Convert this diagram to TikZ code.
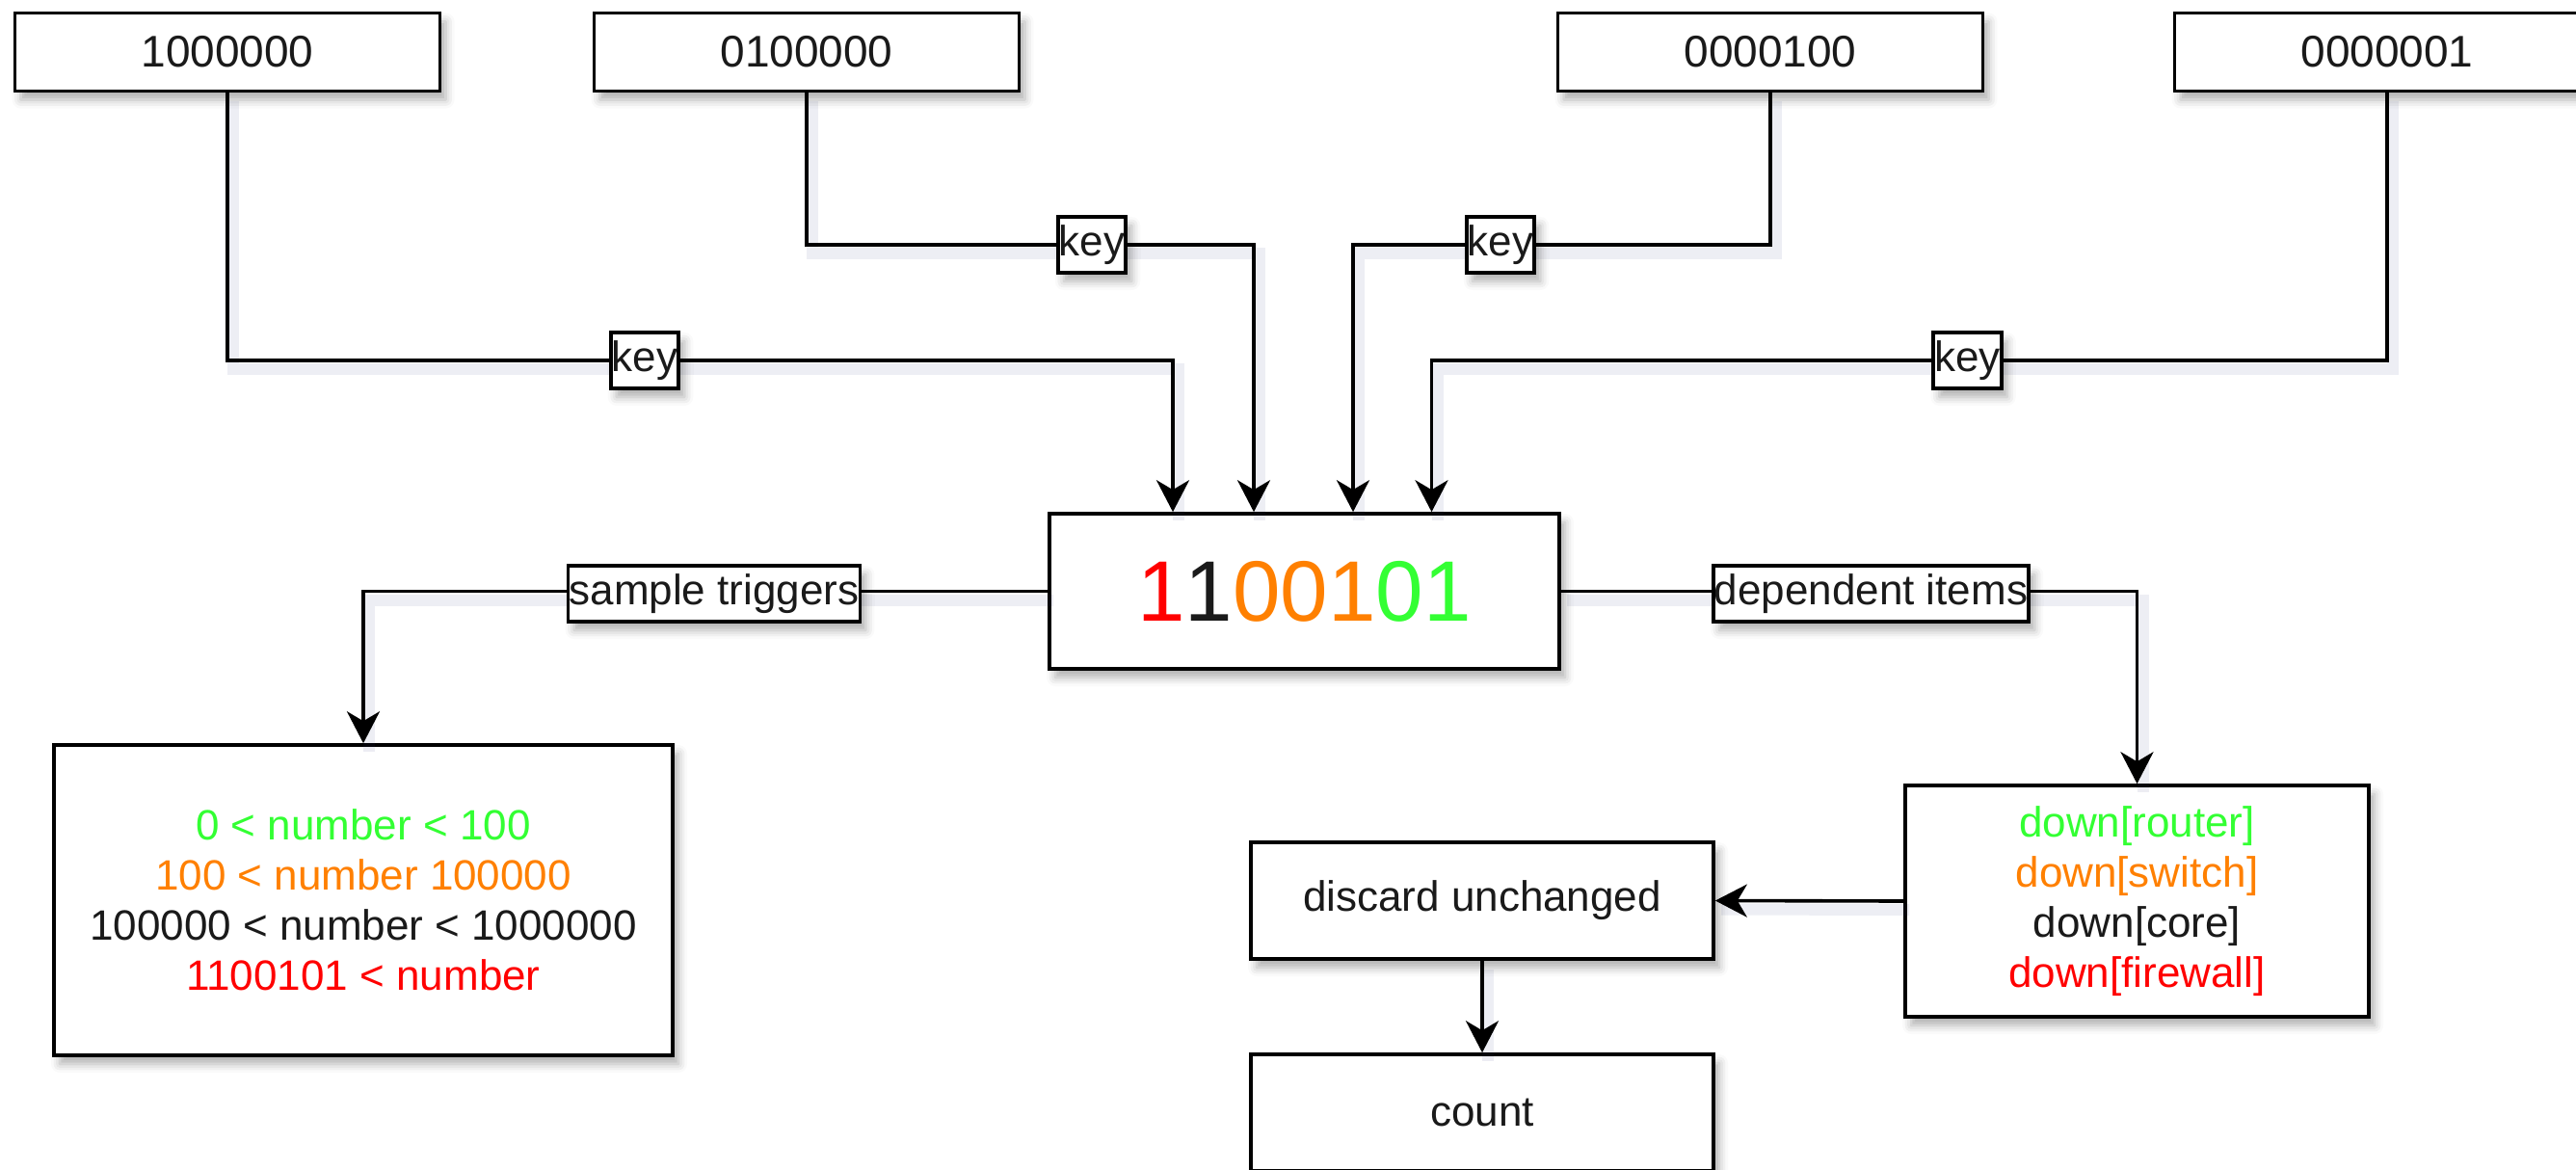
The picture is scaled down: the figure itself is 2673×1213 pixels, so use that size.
\documentclass[tikz,border=0pt]{standalone}
\usepackage{fontspec}
\setmainfont{Liberation Sans}
\usetikzlibrary{arrows.meta,shadows.blur}
\definecolor{cgreen}{HTML}{33FF33}
\definecolor{corange}{HTML}{FF8000}
\definecolor{cred}{HTML}{FF0000}
\definecolor{txt}{HTML}{1A1A1A}
\definecolor{shadowc}{HTML}{3A4280}
\begin{document}
\begin{tikzpicture}[x=1pt,y=-1pt,
  shad/.style={blur shadow={shadow xshift=6pt, shadow yshift=-9pt, shadow blur radius=9pt, shadow opacity=32}},
  box/.style={draw, line width=3.6pt, fill=white, inner sep=0pt, text=txt, align=center, shad,
    font=\fontsize{44}{52}\selectfont},
  topbox/.style={box, minimum width=441pt, minimum height=81pt, font=\fontsize{46}{52}\selectfont},
  lbl/.style={draw, line width=3.6pt, fill=white, inner xsep=1pt, inner ysep=0pt, minimum height=58pt,
    text=txt, shad, font=\fontsize{44}{52}\selectfont},
  arr/.style={line width=3.6pt, draw=black, -{Stealth[length=33pt,width=34pt,inset=10pt]},
    preaction={draw=shadowc, draw opacity=0.09, line width=12pt, -, transform canvas={shift={(6pt,-9pt)}}}}
]
\useasboundingbox (0,0) rectangle (2673,1213);
\clip (0,0) rectangle (2673,1213);

% label anchors
\coordinate (k1p) at (669,374);
\coordinate (k2p) at (1133,254);
\coordinate (k3p) at (1557,254);
\coordinate (k4p) at (2041.5,374);

% boxes
\node[topbox] (b1) at (236,54) {1000000};
\node[topbox] (b2) at (837,54) {0100000};
\node[topbox] (b3) at (1837,54) {0000100};
\node[topbox] (b4) at (2477,54) {0000001};

\node[box, minimum width=529pt, minimum height=161pt, font=\fontsize{89}{100}\selectfont] (c) at (1353.5,613.5)
  {\textcolor{cred}{1}\textcolor{txt}{1}\textcolor{corange}{001}\textcolor{cgreen}{01}};

\node[box, minimum width=642pt, minimum height=322pt] (st) at (377,934)
  {\textcolor{cgreen}{0 < number < 100}\\
   \textcolor{corange}{100 < number 100000}\\
   \textcolor{txt}{100000 < number < 1000000}\\
   \textcolor{cred}{1100101 < number}};

\node[box, minimum width=481pt, minimum height=240pt] (di) at (2217.5,935)
  {\textcolor{cgreen}{down[router]}\\
   \textcolor{corange}{down[switch]}\\
   \textcolor{txt}{down[core]}\\
   \textcolor{cred}{down[firewall]}};

\node[box, minimum width=480pt, minimum height=121pt] (du) at (1538,934.5) {discard unchanged};
\node[box, minimum width=480pt, minimum height=121pt] (cnt) at (1538,1154.5) {count};

% connectors
\draw[arr] (b1.south) |- (k1p) -| ([xshift=-136.5pt]c.north);
\draw[arr] (b2.south) |- (k2p) -| ([xshift=-52.5pt]c.north);
\draw[arr] (b3.south) |- (k3p) -| ([xshift=50.5pt]c.north);
\draw[arr] (b4.south) |- (k4p) -| ([xshift=132pt]c.north);
\draw[arr] (c.west) -| (st.north);
\draw[arr] (c.east) -| (di.north);
\draw[arr] (di.west) -- (du.east);
\draw[arr] (du.south) -- (cnt.north);

% edge labels
\node[lbl] (k1) at (k1p) {key};
\node[lbl] (k2) at (k2p) {key};
\node[lbl] (k3) at (k3p) {key};
\node[lbl] (k4) at (k4p) {key};
\node[lbl] (ls) at (741,616) {sample triggers};
\node[lbl] (ld) at (1941.5,616) {dependent items};
\end{tikzpicture}
\end{document}
